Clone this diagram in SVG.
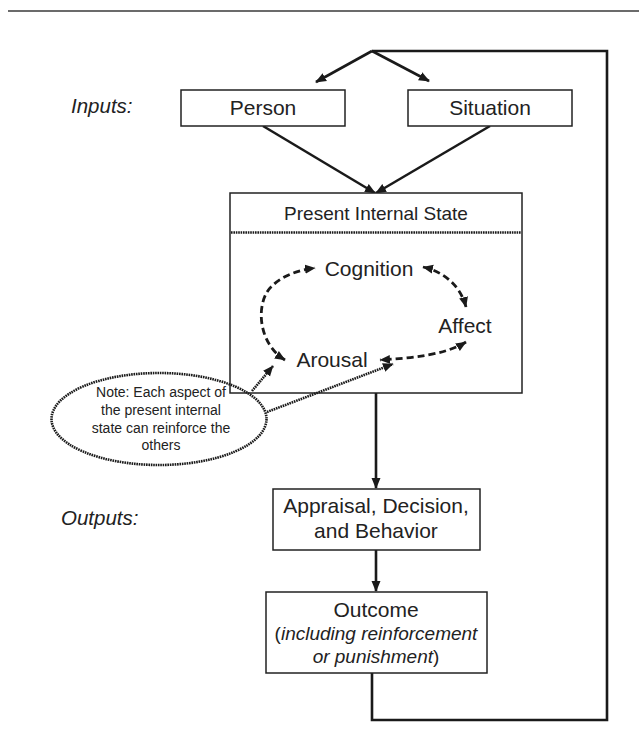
<svg xmlns="http://www.w3.org/2000/svg" width="639" height="742" viewBox="0 0 639 742">
<style>
text{font-family:"Liberation Sans",Arial,sans-serif;fill:#222;}
.box{fill:#fff;stroke:#222;stroke-width:1.5;}
.lbl{font-size:21px;text-anchor:middle;}
.sub{font-size:19px;text-anchor:middle;}
.side{font-size:20.5px;font-style:italic;}
.solid{fill:none;stroke:#1a1a1a;stroke-width:2.6;}
.dash{fill:none;stroke:#1a1a1a;stroke-width:2.8;stroke-dasharray:7,4;}
.dot{fill:none;stroke:#1a1a1a;stroke-width:2.6;stroke-dasharray:1.6,0.8;}
</style>
<defs>
<marker id="ah" markerUnits="userSpaceOnUse" markerWidth="12" markerHeight="12" viewBox="0 0 12 12" refX="10" refY="6" orient="auto-start-reverse">
<path d="M0,1.5 L11,6 L0,10.5 Z" fill="#1a1a1a"/>
</marker>
<marker id="ahs" markerUnits="userSpaceOnUse" markerWidth="11" markerHeight="11" viewBox="0 0 11 11" refX="10" refY="5.5" orient="auto-start-reverse">
<path d="M0,1 L10.5,5.5 L0,10 Z" fill="#1a1a1a"/>
</marker>
</defs>
<line x1="8" y1="11" x2="639" y2="11" stroke="#6b6b6b" stroke-width="2"/>

<g id="connectors">
<polyline class="solid" points="372,673 372,720 607,720 607,51 372,51" stroke-width="3"/>
<line class="solid" x1="372" y1="51" x2="316" y2="82" marker-end="url(#ah)"/>
<line class="solid" x1="372" y1="51" x2="429" y2="81" marker-end="url(#ah)"/>
<line class="solid" x1="263" y1="126" x2="375" y2="193" marker-end="url(#ah)"/>
<line class="solid" x1="490" y1="126" x2="376" y2="193" marker-end="url(#ah)"/>
<line class="solid" x1="376" y1="393" x2="376" y2="488" marker-end="url(#ah)"/>
<line class="solid" x1="376" y1="550" x2="376" y2="591" marker-end="url(#ah)"/>
</g>

<g id="inputs-label"><text class="side" x="71" y="113">Inputs:</text></g>
<g id="outputs-label"><text class="side" x="61" y="525">Outputs:</text></g>

<g id="person">
<rect class="box" x="181" y="90" width="164" height="36"/>
<text class="lbl" x="263" y="115">Person</text>
</g>
<g id="situation">
<rect class="box" x="408" y="90" width="164" height="36"/>
<text class="lbl" x="490" y="115">Situation</text>
</g>

<g id="present-internal-state">
<rect class="box" x="230" y="193" width="292" height="200"/>
<text x="376" y="220" font-size="19" text-anchor="middle">Present Internal State</text>
<line class="dot" x1="231" y1="232.5" x2="521" y2="232.5"/>
</g>

<g id="cognition"><text class="lbl" x="369" y="276">Cognition</text></g>
<g id="affect"><text class="lbl" x="465" y="333">Affect</text></g>
<g id="arousal"><text class="lbl" x="332" y="367">Arousal</text></g>

<g id="internal-connectors">
<path class="dash" d="M 285,360 C 256,342 256,300 272,286 C 282,276 298,270 315,268" marker-start="url(#ahs)" marker-end="url(#ahs)"/>
<path class="dash" d="M 423,267 C 445,272 461,287 466,307" marker-start="url(#ahs)" marker-end="url(#ahs)"/>
<path class="dash" d="M 466,342 C 445,355 412,358 380,360" marker-start="url(#ahs)" marker-end="url(#ahs)"/>
<line class="dot" x1="252" y1="391" x2="273" y2="366" marker-end="url(#ahs)"/>
<line class="dot" x1="267" y1="412" x2="393" y2="364" marker-end="url(#ahs)"/>
</g>

<g id="note">
<ellipse class="dot" cx="159" cy="419" rx="107.5" ry="46"/>
<text x="161" y="397" font-size="14" text-anchor="middle">Note: Each aspect of</text>
<text x="161" y="415" font-size="14" text-anchor="middle">the present internal</text>
<text x="161" y="433" font-size="14" text-anchor="middle">state can reinforce the</text>
<text x="161" y="450" font-size="14" text-anchor="middle">others</text>
</g>

<g id="appraisal">
<rect class="box" x="273" y="489" width="207" height="61"/>
<text class="lbl" x="376" y="513">Appraisal, Decision,</text>
<text class="lbl" x="376" y="538">and Behavior</text>
</g>

<g id="outcome">
<rect class="box" x="266" y="592" width="221" height="81"/>
<text class="lbl" x="376" y="617">Outcome</text>
<text class="sub" x="376" y="639.5">(<tspan font-style="italic">including reinforcement</tspan></text>
<text class="sub" x="376" y="662.5"><tspan font-style="italic">or punishment</tspan>)</text>
</g>
</svg>
